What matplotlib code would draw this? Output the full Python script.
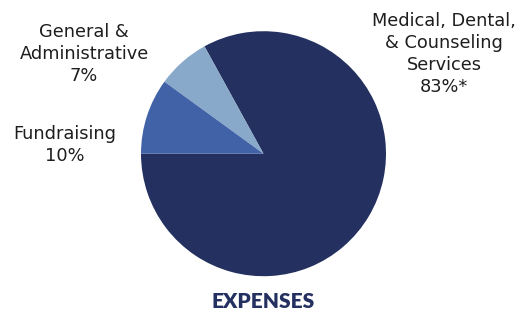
import matplotlib
matplotlib.use("Agg")
import matplotlib.pyplot as plt

categories = ["Medical, Dental,\n& Counseling\nServices", "General &\nAdministrative", "Fundraising"]
values = [83, 7, 10]
value_labels = ["83%*", "7%", "10%"]
title = "EXPENSES"

colors = ["#233060", "#88a9c9", "#4262a8"]
W, H = 518, 316
fig = plt.figure(figsize=(W / 100, H / 100), dpi=100)

cx, cy, r = 263.5, 153.7, 122.5
ax = fig.add_axes([(cx - r) / W, (H - cy - r) / H, 2 * r / W, 2 * r / H])
ax.pie(values, colors=colors, startangle=180, counterclock=True, radius=1,
       wedgeprops=dict(linewidth=0))
ax.set_xlim(-1, 1)
ax.set_ylim(-1, 1)
ax.set_aspect("equal")
ax.axis("off")

font = "DejaVu Sans"
txt_color = "#1e1e1e"
label_pos = [(444, 54), (84, 54), (65, 145)]
for cat, vl, (x, y) in zip(categories, value_labels, label_pos):
    fig.text(x / W, 1 - y / H, cat + "\n" + vl, ha="center", va="center",
             fontsize=12.8, family=font, color=txt_color, linespacing=1.28)

fig.text(263 / W, 1 - 302 / H, title, ha="center", va="center", fontsize=15,
         family="Lato", fontweight="heavy", color="#233060")

fig.savefig("out.png", dpi=100, facecolor="white")
